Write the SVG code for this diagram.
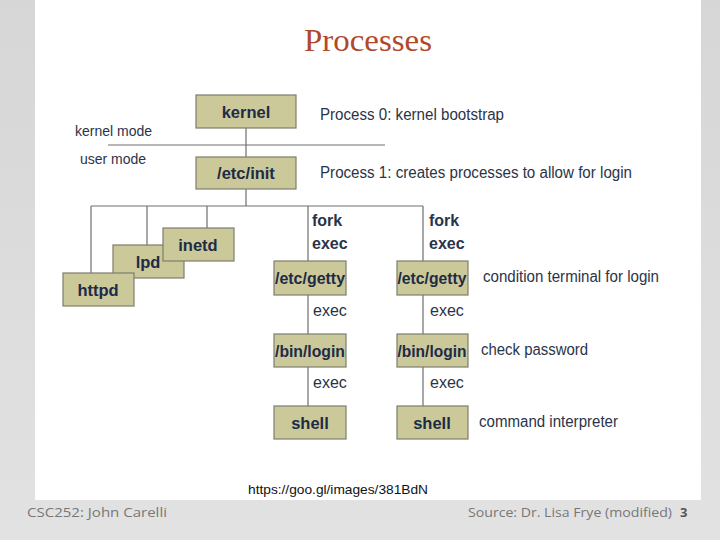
<svg xmlns="http://www.w3.org/2000/svg" width="720" height="540" viewBox="0 0 720 540">
<defs>
<linearGradient id="bg" x1="0" y1="0" x2="0" y2="1">
<stop offset="0" stop-color="#d6d6d6"/>
<stop offset="1" stop-color="#e2e2e2"/>
</linearGradient>
</defs>
<style>
.box{fill:#cbc99a;stroke:#7d7d6e;stroke-width:1.2}
.conn line{stroke:#6e6e6e;stroke-width:1.2}
.nl{font-family:"Liberation Sans",Arial,sans-serif;font-weight:bold;font-size:16.5px;fill:#1f2b45;text-anchor:middle}
.lbl{font-family:"Liberation Sans",Arial,sans-serif;font-size:16px;fill:#2a3448}
.bold{font-weight:bold}
.foot{font-family:"Open Sans","Liberation Sans",sans-serif;font-size:13px;fill:#777}
</style>
<rect width="720" height="540" fill="url(#bg)"/>
<rect x="35" y="0" width="666" height="500" fill="#ffffff"/>
<text x="368" y="51" text-anchor="middle" font-family="Liberation Serif,Times New Roman,serif" font-size="32" fill="#b0482c" textLength="128" lengthAdjust="spacingAndGlyphs">Processes</text>

<g class="conn">
<line x1="108" y1="145" x2="385" y2="145"/>
<line x1="246" y1="128" x2="246" y2="157"/>
<line x1="246" y1="189" x2="246" y2="206"/>
<line x1="91" y1="206" x2="423" y2="206"/>
<line x1="91" y1="206" x2="91" y2="273"/>
<line x1="147" y1="206" x2="147" y2="245"/>
<line x1="207" y1="206" x2="207" y2="228"/>
<line x1="308" y1="206" x2="308" y2="261"/>
<line x1="423" y1="206" x2="423" y2="261"/>
<line x1="308" y1="295" x2="308" y2="334"/>
<line x1="308" y1="367" x2="308" y2="406"/>
<line x1="423" y1="295" x2="423" y2="334"/>
<line x1="423" y1="367" x2="423" y2="406"/>
</g>

<text class="lbl" x="75" y="136" style="font-size:14px">kernel mode</text>
<text class="lbl" x="80" y="164" style="font-size:14px">user mode</text>

<g id="kernel"><rect class="box" x="196" y="95" width="100" height="33"/><text class="nl" x="246" y="118">kernel</text></g>
<g id="init"><rect class="box" x="196" y="157" width="100" height="32"/><text class="nl" x="246" y="179">/etc/init</text></g>
<g id="lpd"><rect class="box" x="113" y="245" width="71" height="33"/><text class="nl" x="148" y="268">lpd</text></g>
<g id="inetd"><rect class="box" x="163" y="228" width="71" height="33"/><text class="nl" x="198" y="251">inetd</text></g>
<g id="httpd"><rect class="box" x="63" y="273" width="71" height="33"/><text class="nl" x="98" y="296">httpd</text></g>

<g id="getty1"><rect class="box" x="274" y="261" width="72" height="34"/><text class="nl" x="310" y="284" textLength="70" lengthAdjust="spacingAndGlyphs">/etc/getty</text></g>
<g id="login1"><rect class="box" x="274" y="334" width="72" height="33"/><text class="nl" x="310" y="357" textLength="70" lengthAdjust="spacingAndGlyphs">/bin/login</text></g>
<g id="shell1"><rect class="box" x="274" y="406" width="72" height="33"/><text class="nl" x="310" y="429">shell</text></g>
<g id="getty2"><rect class="box" x="397" y="261" width="71" height="34"/><text class="nl" x="432" y="284" textLength="69" lengthAdjust="spacingAndGlyphs">/etc/getty</text></g>
<g id="login2"><rect class="box" x="397" y="334" width="71" height="33"/><text class="nl" x="432" y="357" textLength="69" lengthAdjust="spacingAndGlyphs">/bin/login</text></g>
<g id="shell2"><rect class="box" x="397" y="406" width="71" height="33"/><text class="nl" x="432" y="429">shell</text></g>

<text class="lbl bold" x="312" y="226">fork</text>
<text class="lbl bold" x="312" y="249">exec</text>
<text class="lbl bold" x="429" y="226">fork</text>
<text class="lbl bold" x="429" y="249">exec</text>
<text class="lbl" x="313" y="316">exec</text>
<text class="lbl" x="430" y="316">exec</text>
<text class="lbl" x="313" y="388">exec</text>
<text class="lbl" x="430" y="388">exec</text>

<text class="lbl" x="320" y="120" textLength="184" lengthAdjust="spacingAndGlyphs">Process 0: kernel bootstrap</text>
<text class="lbl" x="320" y="178" textLength="312" lengthAdjust="spacingAndGlyphs">Process 1: creates processes to allow for login</text>
<text class="lbl" x="483" y="282" textLength="176" lengthAdjust="spacingAndGlyphs">condition terminal for login</text>
<text class="lbl" x="481" y="355" textLength="107" lengthAdjust="spacingAndGlyphs">check password</text>
<text class="lbl" x="479" y="427" textLength="139" lengthAdjust="spacingAndGlyphs">command interpreter</text>

<text x="248" y="494" font-family="Liberation Sans,Arial,sans-serif" font-size="13" fill="#111" textLength="180" lengthAdjust="spacingAndGlyphs">https://goo.gl/images/381BdN</text>

<text class="foot" x="27" y="517" textLength="140" lengthAdjust="spacingAndGlyphs">CSC252: John Carelli</text>
<text class="foot" x="468" y="517" textLength="204" lengthAdjust="spacingAndGlyphs">Source: Dr. Lisa Frye (modified)</text>
<text class="foot" x="680" y="517" font-weight="bold" style="fill:#555">3</text>
</svg>
